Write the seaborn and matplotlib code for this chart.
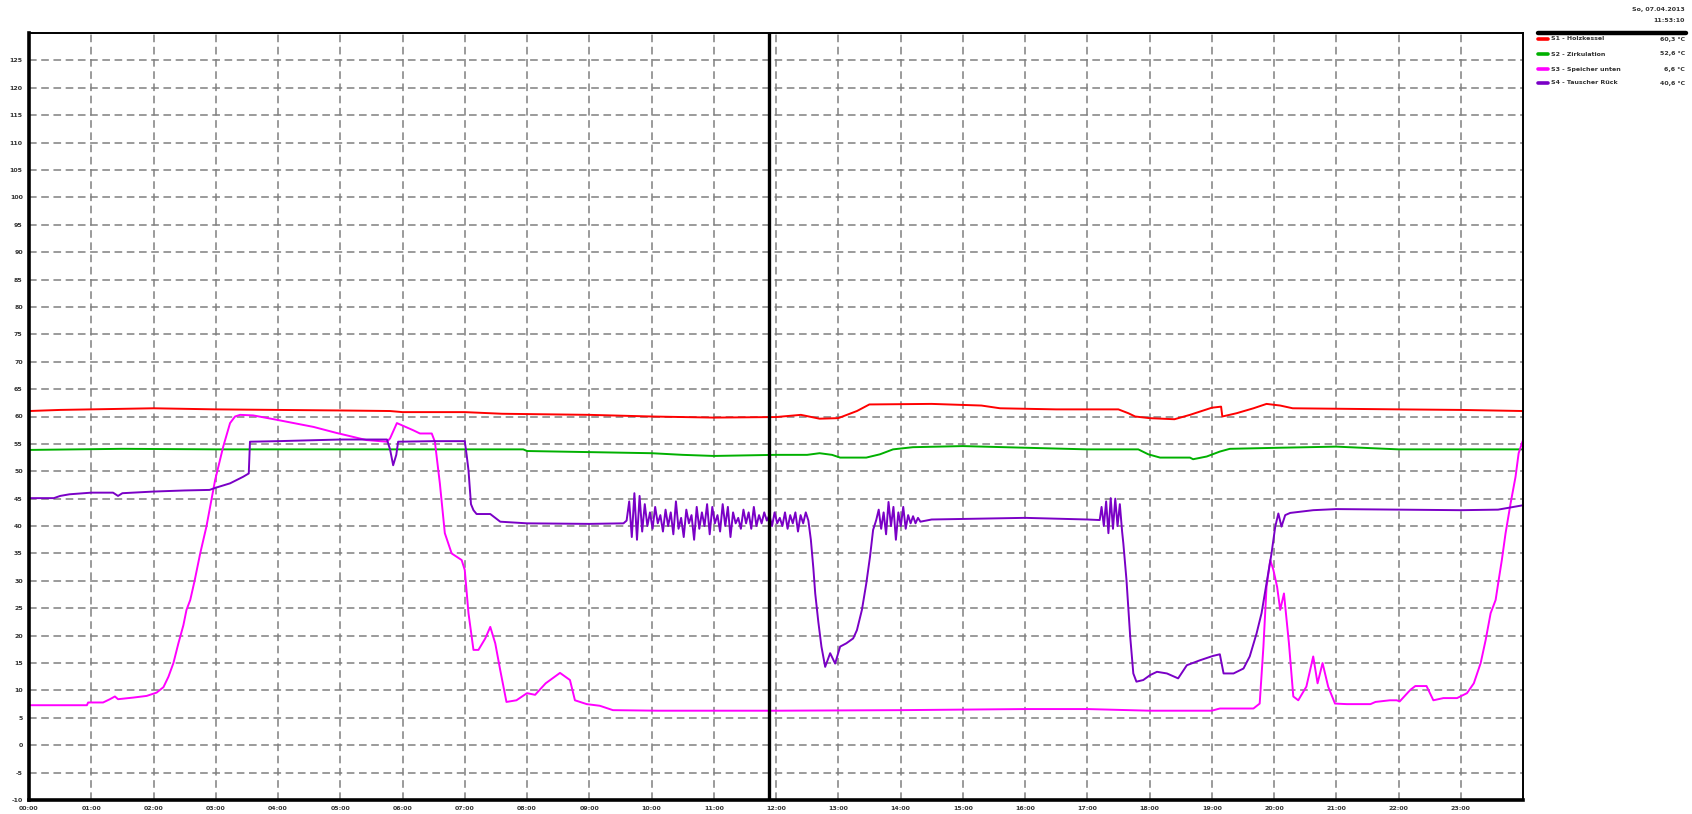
import numpy as np
import pandas as pd
import matplotlib
matplotlib.use("Agg")
import matplotlib.pyplot as plt
import seaborn as sns

# ---------------- data (hours, °C) ----------------
red_t = [0, 0.5, 1.0, 2.0, 3.0, 4.0, 5.0, 5.8, 6.0, 7.0, 7.6, 9.0, 10.0, 11.0, 12.0, 12.4, 12.7, 13.0, 13.3,
         13.5, 14.5, 15.3, 15.6, 16.5, 17.5, 17.66, 17.77, 18.0, 18.4, 18.65, 19.0, 19.15, 19.17, 19.4, 19.67,
         19.88, 20.1, 20.3, 22.0, 23.0, 24.0]
red_v = [61.0, 61.2, 61.3, 61.5, 61.3, 61.2, 61.1, 61.0, 60.8, 60.8, 60.5, 60.3, 60.0, 59.8, 59.9, 60.3, 59.6,
         59.7, 61.0, 62.2, 62.3, 62.0, 61.5, 61.3, 61.3, 60.6, 60.0, 59.7, 59.5, 60.3, 61.6, 61.8, 60.0, 60.6,
         61.5, 62.3, 62.0, 61.5, 61.3, 61.2, 61.0]

green_t = [0, 1.5, 3.0, 7.94, 8.0, 10.0, 10.5, 11.0, 12.0, 12.5, 12.7, 12.9, 13.03, 13.45, 13.67, 13.88, 14.2,
           15.0, 16.0, 17.0, 17.82, 17.98, 18.17, 18.65, 18.7, 18.92, 19.13, 19.29, 20.1, 21.0, 22.0, 24.0]
green_v = [53.9, 54.1, 54.0, 54.0, 53.7, 53.3, 53.0, 52.8, 53.0, 53.0, 53.3, 53.0, 52.5, 52.5, 53.1, 54.0, 54.4,
           54.6, 54.3, 54.0, 54.0, 53.1, 52.5, 52.5, 52.2, 52.7, 53.6, 54.1, 54.3, 54.5, 54.0, 54.0]

magenta_t = [0, 0.93, 0.95, 1.19, 1.3, 1.38, 1.43, 1.68, 1.89, 2.05, 2.16, 2.24, 2.32, 2.4, 2.48, 2.53, 2.59,
             2.66, 2.75, 2.85, 2.99, 3.12, 3.23, 3.31, 3.39, 3.6, 3.98, 4.57, 4.94, 5.42, 5.75, 5.8, 5.91, 6.17,
             6.28, 6.47, 6.52, 6.6, 6.68, 6.79, 6.95, 7.0, 7.06, 7.14, 7.22, 7.33, 7.41, 7.49, 7.57, 7.67, 7.83,
             8.0, 8.13, 8.3, 8.53, 8.69, 8.77, 8.96, 9.17, 9.38, 10.1, 12.0, 14.0, 16.0, 17.0, 18.0, 19.0, 19.13,
             19.67, 19.77, 19.83, 19.88, 19.94, 19.99, 20.05, 20.1, 20.16, 20.24, 20.31, 20.39, 20.52, 20.63,
             20.7, 20.78, 20.87, 20.98, 21.17, 21.55, 21.63, 21.86, 21.97, 22.02, 22.19, 22.27, 22.45, 22.56,
             22.72, 22.94, 23.1, 23.21, 23.32, 23.4, 23.48, 23.56, 23.61, 23.66, 23.72, 23.8, 23.88, 23.93, 24.0]
magenta_v = [7.3, 7.3, 7.8, 7.8, 8.4, 8.9, 8.4, 8.7, 9.0, 9.6, 10.6, 12.5, 15.0, 18.6, 21.9, 24.7, 26.5,
             30.0, 35.0, 39.9, 48.4, 54.5, 58.8, 60.0, 60.3, 60.2, 59.4, 58.1, 57.0, 55.7, 55.4, 56.0, 58.8, 57.5,
             56.9, 56.9, 55.4, 47.8, 38.7, 35.0, 33.8, 32.0, 24.1, 17.4, 17.4, 19.5, 21.6, 18.6, 13.7, 7.9, 8.2,
             9.5, 9.2, 11.3, 13.2, 11.9, 8.2, 7.5, 7.2, 6.4, 6.3, 6.3, 6.4, 6.6, 6.6, 6.3, 6.3, 6.7,
             6.7, 7.6, 18.0, 28.9, 33.8, 32.0, 28.9, 24.7, 27.7, 18.6, 8.9, 8.2, 10.7, 16.2,
             11.3, 15.0, 10.7, 7.6, 7.5, 7.5, 7.9, 8.2, 8.2, 8.0, 10.1, 10.8, 10.8, 8.2,
             8.6, 8.6, 9.5, 11.3, 15.0, 19.2, 24.1, 26.5, 30.2, 33.8, 38.7, 44.1, 49.0, 53.3, 55.7]

purple_a_t = [0, 0.4, 0.5, 0.65, 1.0, 1.35, 1.43, 1.5, 2.0, 2.5, 2.9, 3.0, 3.23, 3.44, 3.53, 3.55, 4.0, 5.0,
              5.75, 5.8, 5.85, 5.9, 5.93, 6.5, 7.0, 7.03, 7.06, 7.1, 7.14, 7.19, 7.41, 7.57, 8.0, 9.0, 9.55]
purple_a_v = [45.1, 45.1, 45.5, 45.8, 46.1, 46.1, 45.5, 46.0, 46.3, 46.5, 46.6, 47.0, 47.8, 49.0, 49.6, 55.4,
              55.5, 55.8, 55.8, 54.0, 51.1, 53.0, 55.4, 55.5, 55.5, 53.0, 50.2, 44.0, 42.9, 42.2, 42.2, 40.8,
              40.5, 40.4, 40.5]
purple_noise1_v = [41.0, 44.5, 38.0, 46.0, 37.5, 45.5, 39.0, 44.0, 40.0, 42.5, 39.5, 43.5, 40.5, 42.0, 39.0,
                   43.0, 40.0, 42.5, 38.5, 44.5, 39.5, 41.5, 38.0, 43.0, 40.5, 42.0, 37.5, 43.5, 39.5, 42.5,
                   40.0, 44.0, 38.5, 43.5, 40.5, 42.0, 39.0, 44.0, 40.0, 43.5, 38.0, 42.5, 40.5, 41.5, 39.5,
                   43.0, 40.5, 42.5, 39.5, 43.5, 40.0, 42.0, 40.5, 42.5, 41.0, 42.0, 40.0, 42.5, 40.5, 41.5,
                   40.0, 42.5, 39.5, 42.0, 40.5, 42.5, 39.0, 42.0, 40.5, 42.5, 41.0]
purple_b_t = [12.56, 12.6, 12.63, 12.68, 12.73, 12.79, 12.87, 12.95, 13.03, 13.13, 13.24, 13.3, 13.38, 13.45,
              13.51, 13.56, 13.61]
purple_b_v = [37.5, 32.3, 27.7, 22.5, 18.0, 14.3, 16.8, 14.9, 18.0, 18.6, 19.5, 21.0, 24.7, 29.5, 34.4, 39.3,
              41.1]
purple_noise2_v = [43.0, 39.5, 42.5, 38.5, 44.4, 40.0, 43.5, 37.5, 42.5, 40.0, 43.5, 39.5, 42.0, 40.5, 41.8,
                   40.5, 41.5, 40.8]
purple_c_t = [14.5, 15.0, 16.0, 17.0, 17.2]
purple_c_v = [41.2, 41.3, 41.5, 41.2, 41.1]
purple_noise3_v = [43.5, 40.0, 44.5, 38.7, 45.1, 39.5, 45.0, 40.0, 44.0, 39.0]
purple_d_t = [17.58, 17.63, 17.69, 17.74, 17.79, 17.9, 18.01, 18.12, 18.28, 18.46, 18.6, 18.81, 19.02, 19.13,
              19.19, 19.35, 19.51, 19.61, 19.72, 19.8, 19.88, 19.96, 20.02, 20.07, 20.12, 20.18, 20.26, 20.63,
              21.0, 22.0, 23.0, 23.6, 24.0]
purple_d_v = [36.8, 30.2, 19.8, 13.1, 11.6, 11.9, 12.8, 13.4, 13.1, 12.2, 14.6, 15.5, 16.3, 16.6,
              13.1, 13.1, 14.0, 16.2, 20.4, 24.1, 29.5, 35.0, 39.9, 42.3, 39.9, 42.0, 42.4, 42.9,
              43.1, 43.0, 42.9, 43.0, 43.8]

hour_labels = [f"{h:02d}:00" for h in range(24)]
y_ticks = list(range(-10, 131, 5))
cursor_hour = 11.886

legend_names = ["S1 - Holzkessel", "S2 - Zirkulation", "S3 - Speicher unten", "S4 - Tauscher Rück"]
legend_values = ["60,3 °C", "52,6 °C", "6,6 °C", "40,6 °C"]
colors = ["#FF0000", "#00B000", "#FF00FF", "#7A00C6"]
date_text = "So, 07.04.2013"
time_text = "11:53:10"

# ---------------- assemble purple ----------------
n1 = np.linspace(9.6, 12.52, len(purple_noise1_v))
n2 = np.linspace(13.65, 14.32, len(purple_noise2_v))
n3 = np.linspace(17.23, 17.56, len(purple_noise3_v))
purple_t = list(purple_a_t) + list(n1) + purple_b_t + list(n2) + purple_c_t + list(n3) + purple_d_t
purple_v = purple_a_v + purple_noise1_v + purple_b_v + purple_noise2_v + purple_c_v + purple_noise3_v + purple_d_v

series = [(red_t, red_v), (green_t, green_v), (magenta_t, magenta_v), (purple_t, purple_v)]

# ---------------- plot ----------------
sns.set_style("white")
plt.rcParams['font.family'] = ['DejaVu Sans']
fig = plt.figure(figsize=(16.92, 8.14), dpi=100)
ax = fig.add_axes([29 / 1692, 1 - 800 / 814, (1523 - 29) / 1692, (800 - 33) / 814])

for (t, v), c in zip(series, colors):
    df = pd.DataFrame({"t": t, "v": v})
    sns.lineplot(data=df, x="t", y="v", ax=ax, color=c, linewidth=1.4, sort=False,
                 estimator=None, legend=False)

ax.axvline(cursor_hour, color="black", linewidth=2.4, zorder=5)

ax.set_xlim(0, 24)
ax.set_ylim(-10, 130)
ax.set_xticks(range(24))
ax.set_xticklabels(hour_labels)
ax.set_yticks(y_ticks)
ax.set_yticklabels([str(v) if v != 130 else "" for v in y_ticks])
ax.set_xlabel("")
ax.set_ylabel("")

ax.grid(True, linestyle=(0, (5, 3)), color="#808080", linewidth=1.1)
ax.set_axisbelow(True)

for side in ["left", "bottom"]:
    ax.spines[side].set_linewidth(2.6)
    ax.spines[side].set_color("black")
for side in ["top", "right"]:
    ax.spines[side].set_linewidth(1.4)
    ax.spines[side].set_color("black")

ax.tick_params(axis="both", which="major", direction="inout", length=5, width=2.5,
               color="black", labelsize=4.5, pad=2)
for lbl in ax.get_xticklabels() + ax.get_yticklabels():
    lbl.set_fontweight("bold")
    lbl.set_color("#333333")

# ---------------- legend panel ----------------
fig.lines.append(plt.Line2D([1538 / 1692, 1686 / 1692], [1 - 33 / 814, 1 - 33 / 814],
                            transform=fig.transFigure, color="black", linewidth=3.2))
entry_y = [39, 54, 69, 83]
for name, val, c, yy in zip(legend_names, legend_values, colors, entry_y):
    yf = 1 - yy / 814
    fig.lines.append(plt.Line2D([1538 / 1692, 1548 / 1692], [yf, yf], transform=fig.transFigure,
                                color=c, linewidth=2.6))
    fig.text(1551 / 1692, yf, name, fontsize=4.5, fontweight="bold", va="center", ha="left", color="#333333")
    fig.text(1685 / 1692, yf, val, fontsize=4.5, fontweight="bold", va="center", ha="right", color="#333333")

fig.text(1685 / 1692, 1 - 9 / 814, date_text, fontsize=4.5, fontweight="bold", va="center", ha="right",
         color="#333333")
fig.text(1685 / 1692, 1 - 20 / 814, time_text, fontsize=4.5, fontweight="bold", va="center", ha="right",
         color="#333333")

fig.savefig("out.png", dpi=100)
